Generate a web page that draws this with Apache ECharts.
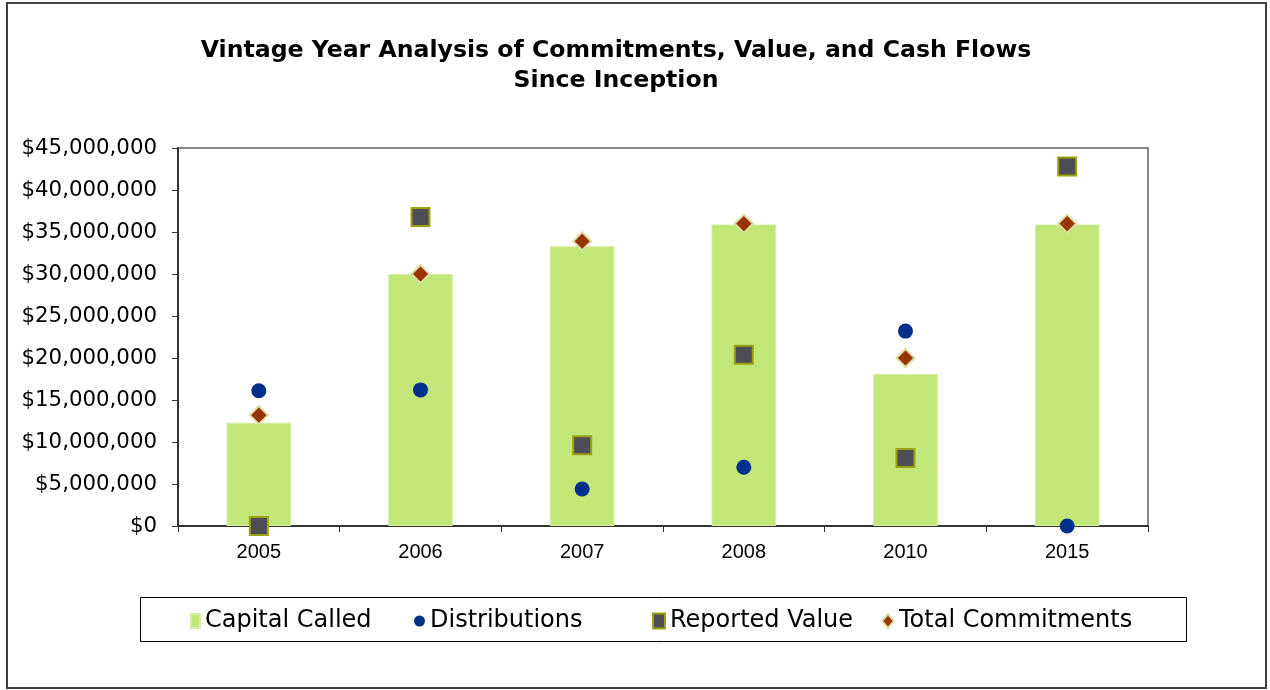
<!DOCTYPE html>
<html>
<head>
<meta charset="utf-8">
<script src="https://cdn.jsdelivr.net/npm/echarts@6/dist/echarts.min.js"></script>
<style>
  html, body { margin: 0; padding: 0; background: #fff; }
  #chart { width: 1270px; height: 690px; }
</style>
</head>
<body>
<div id="chart"></div>
<script>
// vintage years on the x axis
const categories = ['2005', '2006', '2007', '2008', '2010', '2015'];
// values, in dollars
const capitalCalled = [12300000, 30000000, 33300000, 35900000, 18100000, 35900000];
const distributions = [16100000, 16200000, 4400000, 7000000, 23200000, 0];
const reportedValue = [0, 36800000, 9600000, 20400000, 8100000, 42800000];
const totalCommitments = [13200000, 30000000, 33900000, 36000000, 20000000, 36000000];
const yTicks = { min: 0, max: 45000000, interval: 5000000 };

const myChart = echarts.init(document.getElementById('chart'));

// one legend per entry so each sits where the picture has it
const legendItem = (name, icon, left, w, h) => ({
  left: left,
  top: 609,
  padding: 0,
  itemWidth: w,
  itemHeight: h,
  textStyle: { fontFamily: 'DejaVu Sans', fontSize: 24, color: '#000' },
  data: [{ name: name, icon: icon }]
});

myChart.setOption({
  backgroundColor: '#fff',
  animation: false,
  title: {
    text: 'Vintage Year Analysis of Commitments, Value, and Cash Flows\nSince Inception',
    left: 611,
    top: 31,
    textAlign: 'center',
    textStyle: {
      fontFamily: 'DejaVu Sans',
      fontWeight: 'bold',
      fontSize: 23.6,
      lineHeight: 30,
      color: '#000'
    }
  },
  graphic: [
    {
      type: 'rect',
      shape: { x: 7, y: 3, width: 1259, height: 685 },
      style: { fill: 'none', stroke: '#404040', lineWidth: 2 },
      silent: true
    },
    {
      type: 'rect',
      shape: { x: 140.5, y: 597.5, width: 1046, height: 44 },
      style: { fill: 'none', stroke: '#000', lineWidth: 1 },
      silent: true
    }
  ],
  legend: [
    legendItem('Capital Called', 'rect', 190, 9, 14),
    legendItem('Distributions', 'circle', 414, 11, 14),
    legendItem('Reported Value', 'rect', 652, 12, 15),
    legendItem('Total Commitments', 'diamond', 881, 12, 14)
  ],
  grid: {
    left: 178,
    right: 122,
    top: 148,
    bottom: 164,
    show: true,
    borderColor: '#888',
    borderWidth: 2
  },
  xAxis: {
    type: 'category',
    data: categories,
    axisLine: { lineStyle: { color: '#333', width: 2 } },
    axisTick: { show: true, length: 6, lineStyle: { color: '#333', width: 1 } },
    axisLabel: {
      margin: 16,
      fontFamily: 'Liberation Sans',
      fontSize: 20,
      color: '#000'
    },
    splitLine: { show: false }
  },
  yAxis: {
    type: 'value',
    min: yTicks.min,
    max: yTicks.max,
    interval: yTicks.interval,
    axisLine: { show: true, lineStyle: { color: '#333', width: 2 } },
    axisTick: { show: true, length: 6, lineStyle: { color: '#333', width: 1 } },
    axisLabel: {
      margin: 21,
      fontFamily: 'DejaVu Sans',
      fontSize: 21.3,
      color: '#000',
      formatter: v => '$' + v.toLocaleString('en-US')
    },
    splitLine: { show: false }
  },
  series: [
    {
      name: 'Capital Called',
      type: 'bar',
      data: capitalCalled,
      barWidth: '40%',
      itemStyle: { color: '#c2e678', borderColor: '#d6eea6', borderWidth: 1 },
      z: 2
    },
    {
      name: 'Distributions',
      type: 'scatter',
      data: distributions,
      symbol: 'circle',
      symbolSize: 15,
      clip: false,
      itemStyle: { color: '#00308a', opacity: 1 },
      z: 3
    },
    {
      name: 'Reported Value',
      type: 'scatter',
      data: reportedValue,
      symbol: 'rect',
      symbolSize: 18,
      clip: false,
      itemStyle: { color: '#4d4d55', borderColor: '#9ca20c', borderWidth: 2, opacity: 1 },
      z: 4
    },
    {
      name: 'Total Commitments',
      type: 'scatter',
      data: totalCommitments,
      symbol: 'diamond',
      symbolSize: 18,
      clip: false,
      itemStyle: { color: '#993300', borderColor: '#dcdca4', borderWidth: 2, opacity: 1 },
      z: 5
    }
  ]
});
</script>
</body>
</html>
